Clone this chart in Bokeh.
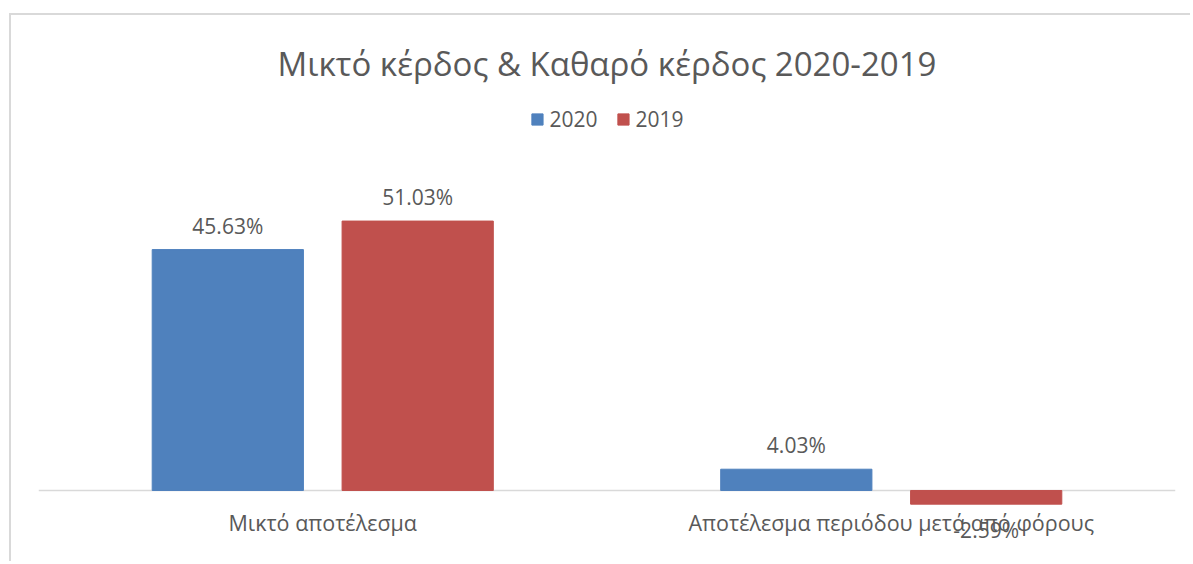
from bokeh.plotting import figure
from bokeh.models import ColumnDataSource, FactorRange, Range1d, Legend, LegendItem, Span
from bokeh.transform import dodge
from bokeh.core.properties import value
from bokeh.embed import file_html
from bokeh.resources import INLINE

categories = ["Μικτό αποτέλεσμα", "Αποτέλεσμα περιόδου μετά από φόρους"]
series_names = ["2020", "2019"]
values_2020 = [45.63, 4.03]
values_2019 = [51.03, -2.59]

FONT = "Open Sans"
TXT = "#595959"
BLUE = "#4F81BD"
RED = "#C0504D"

def fmt(v):
    return f"{v:.2f}%"

src = ColumnDataSource(dict(
    cat=categories,
    v2020=values_2020,
    v2019=values_2019,
    l2020=[fmt(v) for v in values_2020],
    l2019=[fmt(v) for v in values_2019],
    o2020=[-24 if v >= 0 else 26 for v in values_2020],
    o2019=[-24 if v >= 0 else 26 for v in values_2019],
    zero=[0] * len(categories),
))

p = figure(
    width=1181, height=548,
    x_range=FactorRange(*categories, range_padding=0),
    y_range=Range1d(-13.83, 73.3),
    output_backend="svg", toolbar_location=None,
    x_axis_location=None, y_axis_location=None,
    min_border_left=27, min_border_right=17, min_border_bottom=0, min_border_top=88,
)
p.margin = (13, 0, 0, 9)
p.styles = {"border-left": "2px solid #d9d9d9", "border-top": "2px solid #d9d9d9"}
p.outline_line_color = None
p.xgrid.visible = False
p.ygrid.visible = False
p.background_fill_color = "white"
p.border_fill_color = "white"

p.title.text = "Μικτό κέρδος & Καθαρό κέρδος 2020-2019"
p.title.align = "center"
p.title.vertical_align = "top"
p.title.text_font = FONT
p.title.text_font_size = "33px"
p.title.text_font_style = "normal"
p.title.text_color = TXT
p.title.standoff = 32

base = Span(location=0, dimension="width", line_color="#d9d9d9", line_width=1.5, level="underlay")
p.add_layout(base)

r1 = p.vbar(x=dodge("cat", -0.167, range=p.x_range), top="v2020", width=0.266, source=src,
            fill_color=BLUE, line_color=BLUE)
r2 = p.vbar(x=dodge("cat", 0.167, range=p.x_range), top="v2019", width=0.266, source=src,
            fill_color=RED, line_color=RED)

p.text(x=dodge("cat", -0.167, range=p.x_range), y="v2020", text="l2020", y_offset="o2020", source=src,
       text_font=value(FONT), text_font_size="21px", text_color=TXT,
       text_align="center", text_baseline="middle")
p.text(x=dodge("cat", 0.167, range=p.x_range), y="v2019", text="l2019", y_offset="o2019", source=src,
       text_font=value(FONT), text_font_size="21px", text_color=TXT,
       text_align="center", text_baseline="middle")

p.text(x="cat", y="zero", text="cat", y_offset=32, source=src,
       text_font=value(FONT), text_font_size="21.5px", text_color=TXT,
       text_align="center", text_baseline="middle")

legend = Legend(items=[LegendItem(label=series_names[0], renderers=[r1]),
                       LegendItem(label=series_names[1], renderers=[r2])],
                orientation="horizontal", location="top_center",
                label_text_font=FONT, label_text_font_size="21px", label_text_color=TXT,
                glyph_width=14, glyph_height=14, label_standoff=6, spacing=18,
                border_line_color=None, background_fill_alpha=0, padding=0, margin=2)
p.add_layout(legend)

open("out.html", "w").write(file_html(p, INLINE))
